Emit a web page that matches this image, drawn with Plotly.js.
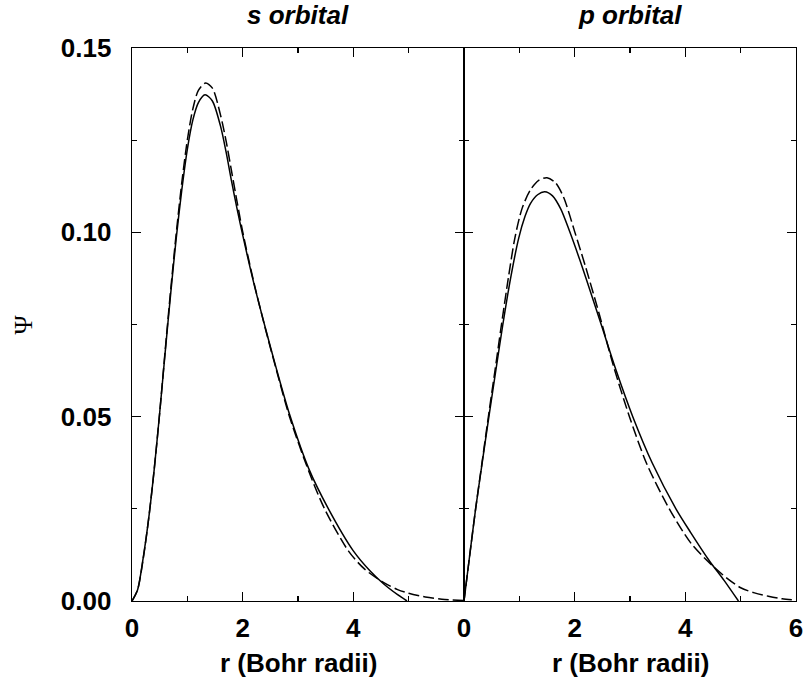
<!DOCTYPE html>
<html>
<head>
<meta charset="utf-8">
<script src="https://cdn.plot.ly/plotly-3.0.1.min.js"></script>
<style>html,body{margin:0;padding:0;background:#fff;}#chart{width:808px;height:683px;}</style>
</head>
<body>
<div id="chart"></div>
<script>
// s orbital, solid
const sSolidR = [0, 0.1, 0.2, 0.3, 0.4, 0.5, 0.6, 0.7, 0.8, 0.9, 1.0, 1.1, 1.2, 1.32, 1.45, 1.6, 1.7, 1.8, 1.9, 2.0, 2.2, 2.42, 2.6, 2.85, 3.2, 3.55, 4.0, 4.3, 4.55, 4.8, 4.97];
const sSolidV = [0, 0.003, 0.0115, 0.0222, 0.0355, 0.051, 0.0675, 0.0835, 0.0985, 0.1115, 0.1225, 0.1305, 0.1352, 0.1373, 0.1357, 0.1288, 0.1218, 0.1138, 0.1063, 0.0993, 0.0863, 0.0735, 0.0635, 0.0505, 0.0357, 0.025, 0.0136, 0.0082, 0.0046, 0.0017, 0];
// s orbital, dashed
const sDashR = [0, 0.1, 0.2, 0.3, 0.4, 0.5, 0.6, 0.7, 0.8, 0.9, 1.0, 1.1, 1.2, 1.33, 1.45, 1.6, 1.7, 1.8, 1.9, 2.0, 2.2, 2.42, 2.6, 2.85, 3.2, 3.48, 3.91, 4.2, 4.55, 4.8, 5.0, 5.3, 5.6, 6.0];
const sDashV = [0, 0.003, 0.0112, 0.0222, 0.0355, 0.051, 0.068, 0.0845, 0.0998, 0.1135, 0.125, 0.1335, 0.1385, 0.1405, 0.1392, 0.1318, 0.1248, 0.1165, 0.1082, 0.1002, 0.0866, 0.0733, 0.0632, 0.0498, 0.035, 0.025, 0.0136, 0.0087, 0.005, 0.0031, 0.0021, 0.0011, 0.0005, 0.0001];
// p orbital, solid
const pSolidR = [0, 0.1, 0.21, 0.33, 0.45, 0.58, 0.7, 0.85, 0.99, 1.1, 1.2, 1.33, 1.46, 1.6, 1.75, 1.91, 2.1, 2.3, 2.49, 2.75, 3.05, 3.4, 3.83, 4.1, 4.43, 4.7, 4.96];
const pSolidV = [0, 0.012, 0.025, 0.0376, 0.05, 0.063, 0.0748, 0.0882, 0.0985, 0.1042, 0.1078, 0.1102, 0.111, 0.1099, 0.1063, 0.1002, 0.0922, 0.0832, 0.0745, 0.0625, 0.05, 0.0375, 0.025, 0.0185, 0.011, 0.0056, 0];
// p orbital, dashed
const pDashR = [0, 0.1, 0.21, 0.33, 0.45, 0.56, 0.67, 0.8, 0.92, 1.05, 1.2, 1.35, 1.5, 1.65, 1.8, 2.0, 2.2, 2.45, 2.7, 2.99, 3.3, 3.71, 4.1, 4.46, 4.75, 5.0, 5.25, 5.5, 5.75, 6.0];
const pDashV = [0, 0.012, 0.025, 0.038, 0.051, 0.0625, 0.0742, 0.0875, 0.0985, 0.1065, 0.1115, 0.1141, 0.1148, 0.1135, 0.1095, 0.1002, 0.0905, 0.0775, 0.0638, 0.05, 0.0373, 0.025, 0.0157, 0.01, 0.0062, 0.0036, 0.0022, 0.0013, 0.0006, 0.0002];

const panelTitles = ['s orbital', 'p orbital'];
const xTitle = 'r (Bohr radii)';
const yTitle = 'Ψ';
const leftXTicks = [0, 2, 4];
const rightXTicks = [0, 2, 4, 6];
const yTicks = [0, 0.05, 0.10, 0.15];
const yTickText = ['0.00', '0.05', '0.10', '0.15'];

const solid = {color: '#000', width: 1.5, shape: 'spline', smoothing: 0.8};
const dashed = {color: '#000', width: 1.5, dash: '11px,4px', shape: 'spline', smoothing: 0.8};

const traces = [
  {x: sSolidR, y: sSolidV, mode: 'lines', line: solid, xaxis: 'x', yaxis: 'y'},
  {x: sDashR, y: sDashV, mode: 'lines', line: dashed, xaxis: 'x', yaxis: 'y'},
  {x: pSolidR, y: pSolidV, mode: 'lines', line: solid, xaxis: 'x2', yaxis: 'y2'},
  {x: pDashR, y: pDashV, mode: 'lines', line: dashed, xaxis: 'x2', yaxis: 'y2'}
];

const tickFont = {family: 'Liberation Sans, Arial, sans-serif', size: 26, color: '#000', weight: 'bold'};
const common = {
  showline: true, linecolor: '#000', linewidth: 1.4, mirror: 'ticks',
  ticks: 'inside', ticklen: 9, tickwidth: 1.3, tickcolor: '#000',
  showgrid: false, zeroline: false, tickfont: tickFont, fixedrange: true
};
const xMinor = {dtick: 1, ticks: 'inside', ticklen: 5, tickwidth: 1.3, tickcolor: '#000', showgrid: false};
const yMinor = {dtick: 0.025, ticks: 'inside', ticklen: 5, tickwidth: 1.3, tickcolor: '#000', showgrid: false};

const layout = {
  width: 808, height: 683,
  margin: {l: 132, r: 12, t: 48, b: 82},
  paper_bgcolor: '#fff', plot_bgcolor: '#fff',
  showlegend: false,
  xaxis: Object.assign({}, common, {domain: [0, 0.5], range: [0, 6], tickmode: 'array', tickvals: leftXTicks, ticktext: leftXTicks.map(String), minor: xMinor, anchor: 'y', ticklabelstandoff: 3}),
  xaxis2: Object.assign({}, common, {domain: [0.5, 1], range: [0, 6], tickmode: 'array', tickvals: rightXTicks, ticktext: rightXTicks.map(String), minor: xMinor, anchor: 'y2', ticklabelstandoff: 3}),
  yaxis: Object.assign({}, common, {range: [0, 0.15], tickmode: 'array', tickvals: yTicks, ticktext: yTickText, minor: yMinor, anchor: 'x', ticklabelstandoff: 14}),
  yaxis2: Object.assign({}, common, {range: [0, 0.15], tickmode: 'array', tickvals: yTicks, ticktext: yTickText, showticklabels: false, minor: yMinor, anchor: 'x2'}),
  annotations: [
    {text: '<b><i>' + panelTitles[0] + '</i></b>', xref: 'paper', yref: 'paper', x: 0.25, y: 1.059, xanchor: 'center', yanchor: 'middle', showarrow: false, font: {family: 'Liberation Sans, Arial, sans-serif', size: 26, color: '#000'}},
    {text: '<b><i>' + panelTitles[1] + '</i></b>', xref: 'paper', yref: 'paper', x: 0.75, y: 1.059, xanchor: 'center', yanchor: 'middle', showarrow: false, font: {family: 'Liberation Sans, Arial, sans-serif', size: 26, color: '#000'}},
    {text: '<b>' + xTitle + '</b>', xref: 'paper', yref: 'paper', x: 0.25, y: -0.112, xanchor: 'center', yanchor: 'middle', showarrow: false, font: {family: 'Liberation Sans, Arial, sans-serif', size: 26, color: '#000'}},
    {text: '<b>' + xTitle + '</b>', xref: 'paper', yref: 'paper', x: 0.75, y: -0.112, xanchor: 'center', yanchor: 'middle', showarrow: false, font: {family: 'Liberation Sans, Arial, sans-serif', size: 26, color: '#000'}},
    {text: yTitle, xref: 'paper', yref: 'paper', x: -0.164, y: 0.5, xanchor: 'center', yanchor: 'middle', textangle: -90, showarrow: false, font: {family: 'Liberation Serif, DejaVu Serif, serif', size: 26, color: '#000'}}
  ]
};

Plotly.newPlot('chart', traces, layout, {displayModeBar: false, staticPlot: true});
</script>
</body>
</html>
